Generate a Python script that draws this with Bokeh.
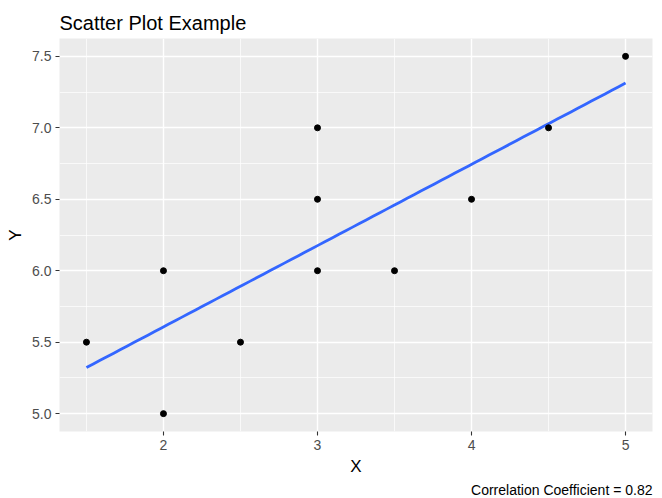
import numpy as np
from bokeh.plotting import figure
from bokeh.models import FixedTicker, Range1d, Title, NumeralTickFormatter
from bokeh.embed import file_html
from bokeh.resources import INLINE

# Observations
x_vals = [1.5, 2.0, 2.0, 2.5, 3.0, 3.0, 3.0, 3.5, 4.0, 4.5, 5.0]
y_vals = [5.5, 6.0, 5.0, 5.5, 7.0, 6.5, 6.0, 6.0, 6.5, 7.0, 7.5]

x_breaks = [2, 3, 4, 5]
x_minor = [1.5, 2.5, 3.5, 4.5]
y_breaks = [5.0, 5.5, 6.0, 6.5, 7.0, 7.5]
y_minor = [5.25, 5.75, 6.25, 6.75, 7.25]

FONT = "Liberation Sans"

# Least-squares fit and correlation
slope, intercept = np.polyfit(x_vals, y_vals, 1)
r = np.corrcoef(x_vals, y_vals)[0, 1]
fit_x = np.linspace(min(x_vals), max(x_vals), 80)
fit_y = intercept + slope * fit_x

# ggplot-style 5% expansion of the data range
def expand(vals, frac=0.05):
    lo, hi = min(vals), max(vals)
    pad = (hi - lo) * frac
    return lo - pad, hi + pad

xr = expand(x_vals)
yr = expand(y_vals)

p = figure(width=662, height=498, output_backend="svg", toolbar_location=None,
           x_range=Range1d(*xr), y_range=Range1d(*yr),
           min_border_left=59, min_border_right=10,
           min_border_top=38, min_border_bottom=66)

p.background_fill_color = "#EBEBEB"
p.border_fill_color = "white"
p.outline_line_color = None

p.title.text = "Scatter Plot Example"
p.title.text_font = FONT
p.title.text_font_size = "20px"
p.title.text_font_style = "normal"
p.title.text_color = "black"
p.title.align = "left"
p.title.standoff = 9

for ax in (p.xaxis[0], p.yaxis[0]):
    ax.axis_line_color = None
    ax.major_tick_line_color = "#333333"
    ax.major_tick_line_width = 1.1
    ax.major_tick_in = 0
    ax.major_tick_out = 4
    ax.minor_tick_line_color = None
    ax.major_label_text_font = FONT
    ax.major_label_text_font_size = "14px"
    ax.major_label_text_color = "#4D4D4D"
    ax.major_label_standoff = 4
    ax.axis_label_text_font = FONT
    ax.axis_label_text_font_size = "17px"
    ax.axis_label_text_font_style = "normal"
    ax.axis_label_text_color = "black"
    ax.axis_label_standoff = 4

p.xaxis.ticker = FixedTicker(ticks=x_breaks, minor_ticks=x_minor)
p.yaxis.ticker = FixedTicker(ticks=y_breaks, minor_ticks=y_minor)
p.yaxis.formatter = NumeralTickFormatter(format="0.0")
p.xaxis.axis_label = "X"
p.yaxis.axis_label = "Y"

for g in (p.xgrid[0], p.ygrid[0]):
    g.grid_line_color = "white"
    g.grid_line_width = 1.4
    g.minor_grid_line_color = "white"
    g.minor_grid_line_width = 0.7

p.line(fit_x, fit_y, line_color="#3366FF", line_width=2.8)
p.scatter(x_vals, y_vals, size=6, color="black")

caption = Title(text=f"Correlation Coefficient = {r:.2f}", align="right",
                text_font=FONT, text_font_size="14px",
                text_font_style="normal", text_color="black", standoff=2)
p.add_layout(caption, "below")

open("out.html", "w").write(file_html(p, INLINE))
